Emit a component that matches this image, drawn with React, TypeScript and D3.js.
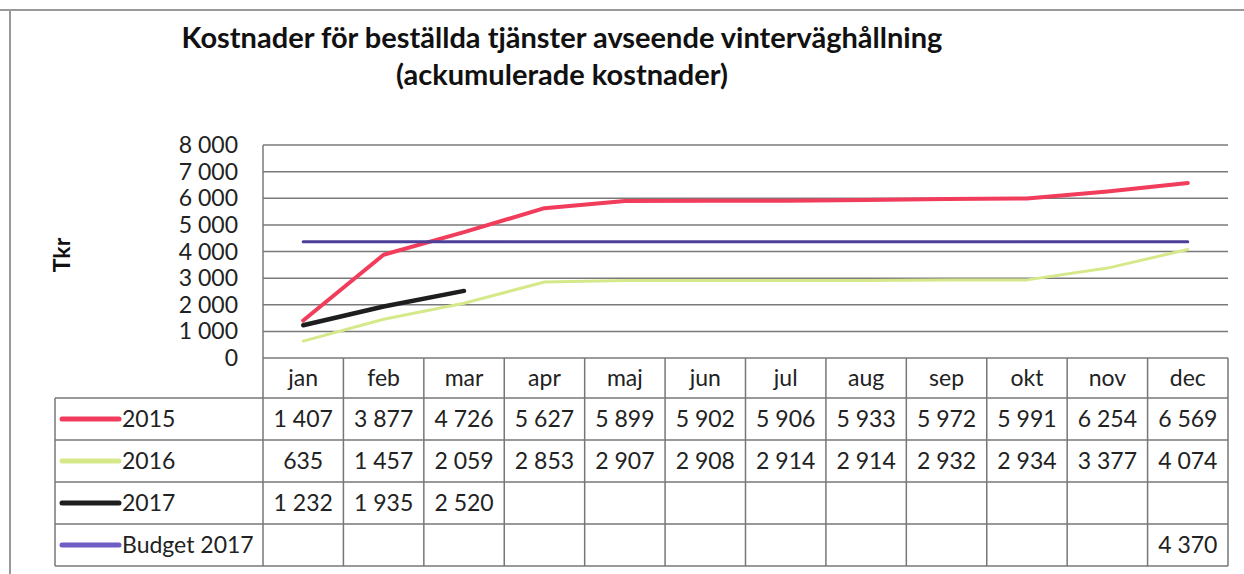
import { useEffect, useRef } from "react";
import * as d3 from "d3";

const months = ["jan", "feb", "mar", "apr", "maj", "jun", "jul", "aug", "sep", "okt", "nov", "dec"];
const values2015 = [1407, 3877, 4726, 5627, 5899, 5902, 5906, 5933, 5972, 5991, 6254, 6569];
const values2016 = [635, 1457, 2059, 2853, 2907, 2908, 2914, 2914, 2932, 2934, 3377, 4074];
const values2017 = [1232, 1935, 2520, null, null, null, null, null, null, null, null, null];
// budgetlinjen ritas över hela året, men tabellen visar bara dec
const budgetLine = [4370, 4370, 4370, 4370, 4370, 4370, 4370, 4370, 4370, 4370, 4370, 4370];
const budgetTable = [null, null, null, null, null, null, null, null, null, null, null, 4370];
const yTicks = [0, 1000, 2000, 3000, 4000, 5000, 6000, 7000, 8000];

const FONT = "Lato, 'Open Sans', sans-serif";

const App = () => {
  const svgRef = useRef(null);

  useEffect(() => {
    const W = 1244;
    const H = 574;
    const plot = { left: 263, right: 1228, top: 145, bottom: 358 };
    const rowH = [398, 440, 482, 524, 566];
    const legendLeft = 55;

    const svg = d3.select(svgRef.current);
    svg.selectAll("*").remove();
    svg.attr("width", W).attr("height", H);

    const sv = d3.formatLocale({ decimal: ",", thousands: "\u00a0", grouping: [3], currency: ["", ""] });
    const fmt = sv.format(",d");

    const x = d3.scaleBand().domain(months).range([plot.left, plot.right]).padding(0);
    const y = d3.scaleLinear().domain([0, 8000]).range([plot.bottom, plot.top]);
    const cx = (m) => x(m) + x.bandwidth() / 2;

    // ram
    svg.append("line").attr("x1", 0).attr("x2", W).attr("y1", 10).attr("y2", 10)
      .attr("stroke", "#999").attr("stroke-width", 2);
    svg.append("line").attr("x1", 10).attr("x2", 10).attr("y1", 10).attr("y2", H)
      .attr("stroke", "#999").attr("stroke-width", 2);

    // titel
    const title = svg.append("text").attr("text-anchor", "middle")
      .attr("font-family", FONT).attr("font-weight", "bold").attr("font-size", 29).attr("fill", "#111");
    title.append("tspan").attr("x", 562).attr("y", 48).text("Kostnader för beställda tjänster avseende vinterväghållning");
    title.append("tspan").attr("x", 562).attr("y", 85).text("(ackumulerade kostnader)");

    // rutnät
    svg.append("g").selectAll("line").data(yTicks).join("line")
      .attr("x1", plot.left).attr("x2", plot.right)
      .attr("y1", (d) => y(d)).attr("y2", (d) => y(d))
      .attr("stroke", "#7a7a7a").attr("stroke-width", 1.5);
    svg.append("line").attr("x1", plot.left).attr("x2", plot.left)
      .attr("y1", plot.top).attr("y2", plot.bottom).attr("stroke", "#7a7a7a").attr("stroke-width", 1.5);

    // y-axel
    svg.append("g").selectAll("text").data(yTicks).join("text")
      .attr("x", 238).attr("y", (d) => y(d)).attr("dy", "0.35em")
      .attr("text-anchor", "end").attr("font-family", FONT).attr("font-size", 23).attr("fill", "#222")
      .text((d) => fmt(d));

    svg.append("text").attr("transform", "translate(70,255) rotate(-90)")
      .attr("text-anchor", "middle").attr("font-family", FONT).attr("font-weight", "bold")
      .attr("font-size", 23).attr("fill", "#111").text("Tkr");

    // tabell
    const table = svg.append("g").attr("stroke", "#777").attr("stroke-width", 1.5);
    months.forEach((m, i) => {
      table.append("line").attr("x1", x(m)).attr("x2", x(m)).attr("y1", plot.bottom).attr("y2", rowH[4]);
      if (i === months.length - 1) {
        table.append("line").attr("x1", x(m) + x.bandwidth()).attr("x2", x(m) + x.bandwidth())
          .attr("y1", plot.bottom).attr("y2", rowH[4]);
      }
    });
    rowH.forEach((ry) => {
      table.append("line").attr("x1", legendLeft).attr("x2", plot.right).attr("y1", ry).attr("y2", ry);
    });
    table.append("line").attr("x1", legendLeft).attr("x2", legendLeft).attr("y1", rowH[0]).attr("y2", rowH[4]);

    svg.append("g").selectAll("text").data(months).join("text")
      .attr("x", (d) => cx(d)).attr("y", (plot.bottom + rowH[0]) / 2).attr("dy", "0.35em")
      .attr("text-anchor", "middle").attr("font-family", FONT).attr("font-size", 23).attr("fill", "#222")
      .text((d) => d);

    const series = [
      { name: "2015", values: values2015, table: values2015, color: "#f23c5c", width: 4, legend: "#f23c5c" },
      { name: "2016", values: values2016, table: values2016, color: "#d6e98a", width: 3, legend: "#d6e98a" },
      { name: "2017", values: values2017, table: values2017, color: "#1e1e1e", width: 4.5, legend: "#1e1e1e" },
      { name: "Budget 2017", values: budgetLine, table: budgetTable, color: "#4b3f97", width: 3, legend: "#6f5fc4" },
    ];

    series.forEach((s, r) => {
      const midY = (rowH[r] + rowH[r + 1]) / 2;
      svg.append("line").attr("x1", 62).attr("x2", 119).attr("y1", midY).attr("y2", midY)
        .attr("stroke", s.legend).attr("stroke-width", 5).attr("stroke-linecap", "round");
      svg.append("text").attr("x", 122).attr("y", midY).attr("dy", "0.35em")
        .attr("font-family", FONT).attr("font-size", 23).attr("fill", "#222").text(s.name);
      svg.append("g").selectAll("text").data(months).join("text")
        .attr("x", (d) => cx(d)).attr("y", midY).attr("dy", "0.35em")
        .attr("text-anchor", "middle").attr("font-family", FONT).attr("font-size", 23).attr("fill", "#222")
        .text((d, i) => (s.table[i] == null ? "" : fmt(s.table[i])));
    });

    // linjer
    const line = d3.line()
      .defined((d) => d[1] != null)
      .x((d) => cx(d[0]))
      .y((d) => y(d[1]));

    series.forEach((s) => {
      svg.append("path")
        .datum(months.map((m, i) => [m, s.values[i]]))
        .attr("d", line)
        .attr("fill", "none")
        .attr("stroke", s.color)
        .attr("stroke-width", s.width)
        .attr("stroke-linejoin", "round")
        .attr("stroke-linecap", "round");
    });
  }, []);

  return (
    <div style={{ position: "absolute", left: 0, top: 0 }}>
      <svg ref={svgRef}></svg>
    </div>
  );
};

export default App;
